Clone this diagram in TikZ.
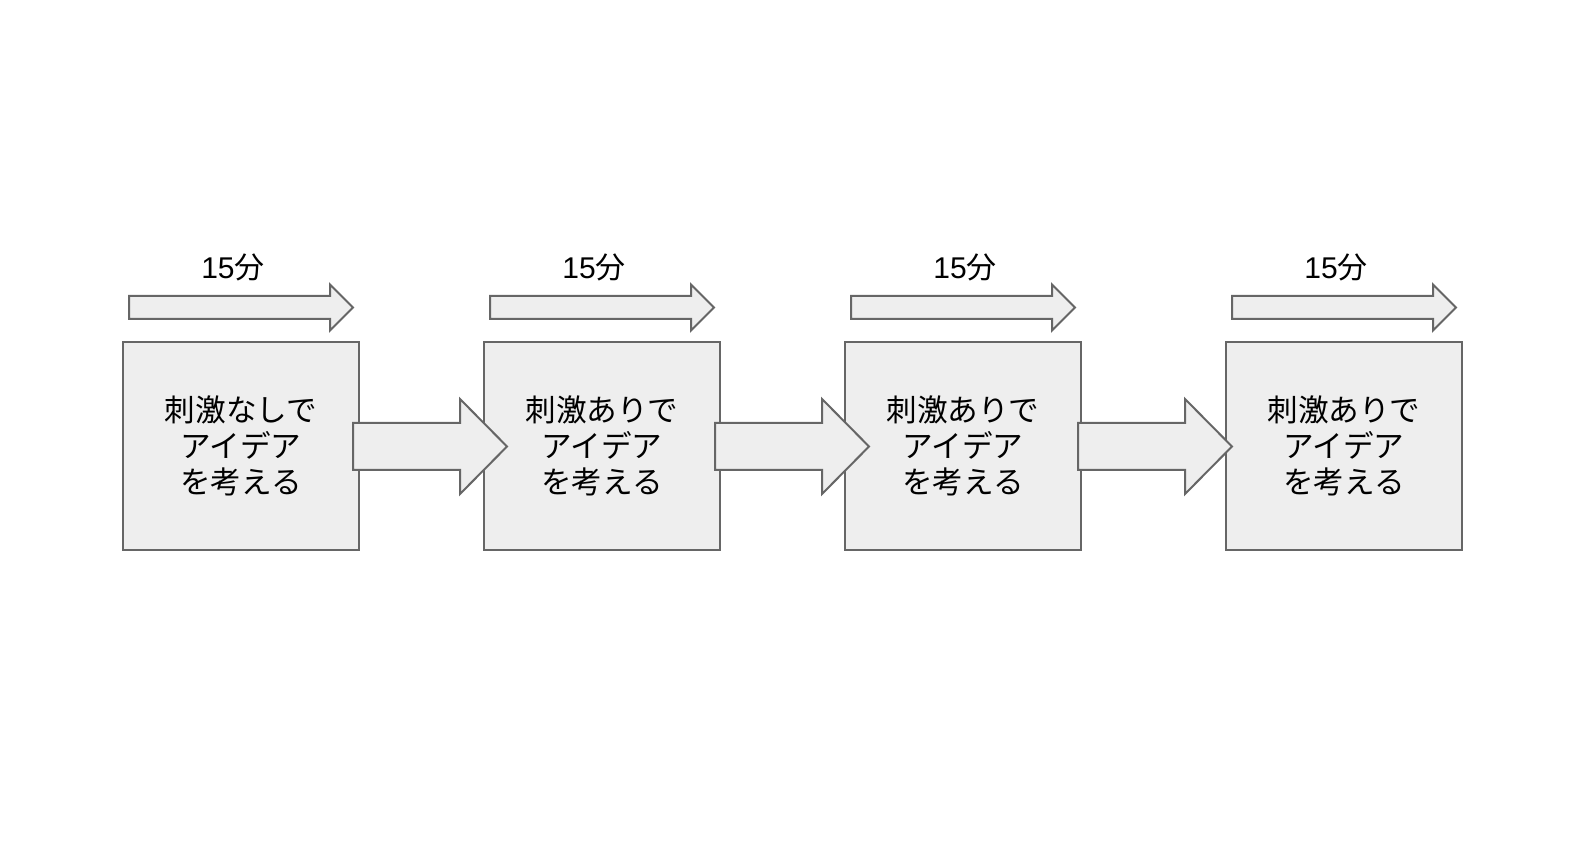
\documentclass[tikz,border=0pt]{standalone}
\usepackage{fontspec}
\setmainfont{Liberation Sans}
\newfontfamily\jp{Noto Sans CJK JP}
\definecolor{linegray}{HTML}{666666}
\definecolor{boxgray}{HTML}{EEEEEE}
\begin{document}
\begin{tikzpicture}[x=0.5pt,y=-0.5pt,
  box/.style={draw=linegray,fill=boxgray,line width=1pt,minimum width=118pt,
    minimum height=104pt,inner sep=0pt,align=center,
    font=\jp\fontsize{15.3}{18}\selectfont},
  blk/.style={draw=linegray,fill=boxgray,line width=1pt,line join=miter},
  lbl/.style={inner sep=0pt,font=\fontsize{15}{18}\selectfont}]
  \useasboundingbox (0,0) rectangle (1588,854);
  \def\bigarrow#1{
    \begin{scope}[shift={(#1,446.5)}]
      \draw[blk] (0,-23.5) -- (107,-23.5) -- (107,-47.5) -- (154,0)
        -- (107,47.5) -- (107,23.5) -- (0,23.5) -- cycle;
    \end{scope}
  }
  \def\timearrow#1{
    \begin{scope}[shift={(#1,307.5)}]
      \draw[blk] (0,-11.5) -- (201,-11.5) -- (201,-23) -- (224,0)
        -- (201,23) -- (201,11.5) -- (0,11.5) -- cycle;
    \end{scope}
  }
  % time arrows with labels
  \foreach \x/\lx/\n in {129/233/1,490/594/2,851/965/3,1232/1336/4} {
    \timearrow{\x}
    \node[lbl] (t\n) at (\lx,267) {15{\jp 分}};
  }
  % boxes
  \node[box] (b1) at (241,446) {刺激なしで\\アイデア\\を考える};
  \node[box] (b2) at (602,446) {刺激ありで\\アイデア\\を考える};
  \node[box] (b3) at (963,446) {刺激ありで\\アイデア\\を考える};
  \node[box] (b4) at (1344,446) {刺激ありで\\アイデア\\を考える};
  % block arrows between boxes
  \bigarrow{353}
  \bigarrow{715}
  \bigarrow{1078}
\end{tikzpicture}
\end{document}
